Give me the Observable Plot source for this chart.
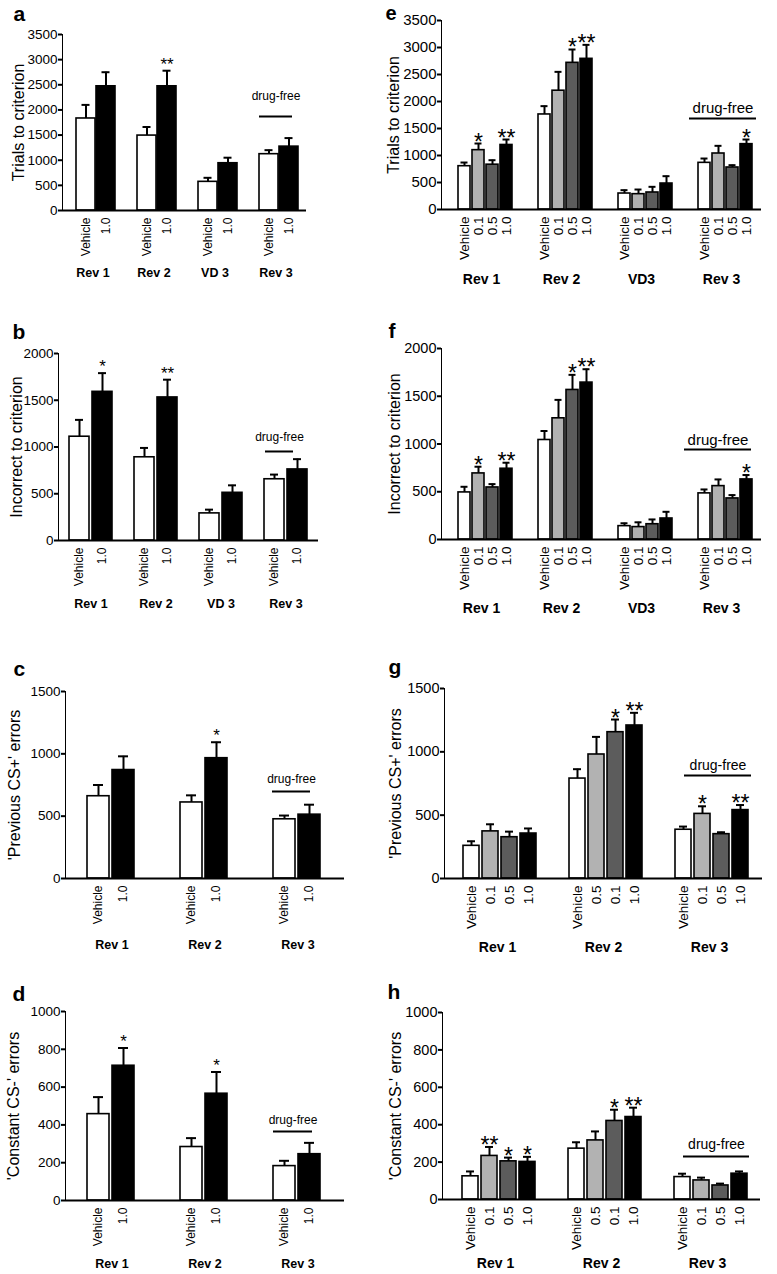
<!DOCTYPE html>
<html>
<head>
<meta charset="utf-8">
<script src="https://cdn.jsdelivr.net/npm/d3@7"></script>
<script src="https://cdn.jsdelivr.net/npm/@observablehq/plot@0.6"></script>
<style>
html, body { margin: 0; padding: 0; background: #fff; }
#root { position: relative; width: 777px; height: 1274px; overflow: hidden; }
.panel { position: absolute; }
.panel svg { overflow: visible; }
.panel g[aria-label^="y-axis"] path, .panel g[aria-label^="y-axis"] line { stroke-width: 2px; stroke: #000; }
</style>
</head>
<body>
<div id="root"></div>
<script>
// ---------- DATA ----------
const shades2 = ["#ffffff", "#000000"];
const shades4 = ["#ffffff", "#b2b2b2", "#5c5c5c", "#000000"];

// Panel a
const groupsA = ["Rev 1", "Rev 2", "VD 3", "Rev 3"];
const dosesA = [["Vehicle", "1.0"], ["Vehicle", "1.0"], ["Vehicle", "1.0"], ["Vehicle", "1.0"]];
const meanA = [[1830, 2470], [1490, 2470], [570, 940], [1120, 1270]];
const errA = [[2100, 2750], [1660, 2780], [650, 1050], [1200, 1440]];
const starsA = [["", ""], ["", "**"], ["", ""], ["", ""]];
const ticksA = [0, 500, 1000, 1500, 2000, 2500, 3000, 3500];

// Panel b
const groupsB = ["Rev 1", "Rev 2", "VD 3", "Rev 3"];
const dosesB = [["Vehicle", "1.0"], ["Vehicle", "1.0"], ["Vehicle", "1.0"], ["Vehicle", "1.0"]];
const meanB = [[1110, 1590], [890, 1530], [290, 510], [655, 760]];
const errB = [[1290, 1790], [990, 1720], [330, 590], [705, 870]];
const starsB = [["", "*"], ["", "**"], ["", ""], ["", ""]];
const ticksB = [0, 500, 1000, 1500, 2000];

// Panel c
const groupsC = ["Rev 1", "Rev 2", "Rev 3"];
const dosesC = [["Vehicle", "1.0"], ["Vehicle", "1.0"], ["Vehicle", "1.0"]];
const meanC = [[660, 870], [610, 965], [475, 512]];
const errC = [[750, 980], [667, 1093], [505, 592]];
const starsC = [["", ""], ["", "*"], ["", ""]];
const ticksC = [0, 500, 1000, 1500];

// Panel d
const groupsD = ["Rev 1", "Rev 2", "Rev 3"];
const dosesD = [["Vehicle", "1.0"], ["Vehicle", "1.0"], ["Vehicle", "1.0"]];
const meanD = [[457, 713], [283, 565], [182, 245]];
const errD = [[547, 807], [330, 680], [210, 305]];
const starsD = [["", "*"], ["", "*"], ["", ""]];
const ticksD = [0, 200, 400, 600, 800, 1000];

// Panel e
const groupsE = ["Rev 1", "Rev 2", "VD3", "Rev 3"];
const dosesE = [["Vehicle", "0.1", "0.5", "1.0"], ["Vehicle", "0.1", "0.5", "1.0"], ["Vehicle", "0.1", "0.5", "1.0"], ["Vehicle", "0.1", "0.5", "1.0"]];
const meanE = [[802, 1099, 830, 1195], [1760, 2200, 2716, 2790], [296, 284, 315, 481], [864, 1037, 778, 1210]];
const errE = [[870, 1222, 913, 1296], [1914, 2549, 2963, 3049], [358, 370, 420, 617], [944, 1179, 821, 1296]];
const starsE = [["", "*", "", "**"], ["", "", "*", "**"], ["", "", "", ""], ["", "", "", "*"]];
const ticksE = [0, 500, 1000, 1500, 2000, 2500, 3000, 3500];

// Panel f
const groupsF = ["Rev 1", "Rev 2", "VD3", "Rev 3"];
const dosesF = [["Vehicle", "0.1", "0.5", "1.0"], ["Vehicle", "0.1", "0.5", "1.0"], ["Vehicle", "0.1", "0.5", "1.0"], ["Vehicle", "0.1", "0.5", "1.0"]];
const meanF = [[493, 692, 545, 741], [1042, 1269, 1566, 1643], [140, 130, 160, 220], [483, 559, 430, 629]];
const errF = [[552, 762, 580, 804], [1136, 1462, 1724, 1783], [170, 180, 210, 290], [524, 629, 465, 675]];
const starsF = [["", "*", "", "**"], ["", "", "*", "**"], ["", "", "", ""], ["", "", "", "*"]];
const ticksF = [0, 500, 1000, 1500, 2000];

// Panel g
const groupsG = ["Rev 1", "Rev 2", "Rev 3"];
const dosesG = [["Vehicle", "0.1", "0.5", "1.0"], ["Vehicle", "0.5", "0.1", "1.0"], ["Vehicle", "0.1", "0.5", "1.0"]];
const meanG = [[258, 372, 326, 355], [789, 979, 1155, 1208], [385, 510, 350, 540]];
const errG = [[294, 428, 370, 395], [863, 1118, 1255, 1308], [410, 570, 365, 580]];
const starsG = [["", "", "", ""], ["", "", "*", "**"], ["", "*", "", "**"]];
const ticksG = [0, 500, 1000, 1500];

// Panel h
const groupsH = ["Rev 1", "Rev 2", "Rev 3"];
const dosesH = [["Vehicle", "0.1", "0.5", "1.0"], ["Vehicle", "0.5", "0.1", "1.0"], ["Vehicle", "0.1", "0.5", "1.0"]];
const meanH = [[124, 233, 204, 201], [272, 316, 420, 441], [120, 102, 75, 138]];
const errH = [[150, 281, 224, 228], [306, 364, 480, 491], [138, 117, 85, 150]];
const starsH = [["", "**", "*", "*"], ["", "", "*", "**"], ["", "", "", ""]];
const ticksH = [0, 200, 400, 600, 800, 1000];

// ---------- RENDER ----------
const FONT = "'Liberation Sans', Arial, Helvetica, sans-serif";

function panel(c) {
  const rows = [];
  c.groups.forEach((g, gi) => c.doses[gi].forEach((lab, i) => rows.push({
    group: g, idx: i, label: lab, mean: c.means[gi][i], err: c.errs[gi][i],
    star: c.stars[gi][i], fill: c.shades[i]
  })));
  const ymax = c.ticks[c.ticks.length - 1];
  const first = [c.groups[0]];
  const df = [{g: c.dfGroup, y: c.dfLevel}];
  const plot = Plot.plot({
    width: c.width, height: c.height,
    marginLeft: c.ml, marginRight: c.mr, marginTop: c.mt, marginBottom: c.mb,
    style: {fontFamily: FONT, fontSize: c.tickFont + "px", color: "#000", background: "transparent", overflow: "visible"},
    fx: {domain: c.groups, padding: 0, axis: null, label: null},
    x: {domain: d3.range(c.shades.length), paddingInner: c.pI, paddingOuter: c.pO, align: c.align, axis: null, label: null},
    y: {domain: [0, ymax], ticks: c.ticks, tickFormat: d3.format("d"), tickSize: 4, tickPadding: 1, line: true, label: null},
    color: {type: "identity"},
    marks: [
      Plot.barY(rows, {fx: "group", x: "idx", y: "mean", fill: "fill", stroke: "#000", strokeWidth: 1.6}),
      Plot.ruleX(rows, {fx: "group", x: "idx", y1: "mean", y2: "err", stroke: "#000", strokeWidth: 2}),
      Plot.tickY(rows, {fx: "group", x: "idx", y: "err", stroke: "#000", strokeWidth: 2, insetLeft: c.cap, insetRight: c.cap}),
      Plot.ruleY([0], {stroke: "#000", strokeWidth: 2}),
      Plot.text(rows.filter(d => d.star), {fx: "group", x: "idx", y: "err", text: "star", fontSize: c.starFont, lineAnchor: "bottom", dy: c.starDy}),
      Plot.text(rows, {fx: "group", x: "idx", text: "label", frameAnchor: "bottom", rotate: -90, textAnchor: "end", lineAnchor: "middle", dy: c.doseDy, fontSize: c.doseFont}),
      Plot.text(c.groups, {fx: d => d, text: d => d, frameAnchor: "bottom", lineAnchor: "bottom", dy: c.groupDy, fontWeight: "bold", fontSize: c.groupFont}),
      Plot.text(first, {fx: d => d, y: () => ymax / 2, text: () => c.title, frameAnchor: "left", rotate: -90, textAnchor: "middle", lineAnchor: "middle", dx: c.titleDx, fontSize: c.titleFont}),
      Plot.text(first, {fx: d => d, y: () => ymax, text: () => c.letter, frameAnchor: "left", textAnchor: "start", lineAnchor: "bottom", dx: c.letterDx, dy: c.letterDy, fontWeight: "bold", fontSize: c.letterFont || 21}),
      Plot.ruleY(df, {fx: "g", y: "y", stroke: "#000", strokeWidth: 2, insetLeft: c.dfInL, insetRight: c.dfInR}),
      Plot.text(df, {fx: "g", y: "y", text: () => "drug-free", lineAnchor: "bottom", dy: -c.dfGap, dx: (c.dfInL - c.dfInR) / 2, fontSize: c.dfFont})
    ]
  });
  const div = document.createElement("div");
  div.className = "panel";
  div.style.left = c.left + "px";
  div.style.top = c.top + "px";
  div.appendChild(plot);
  document.getElementById("root").appendChild(div);
}

const leftCommon = {shades: shades2, left: 0, width: 388, tickFont: 13.5, doseFont: 12, doseDy: 7, groupFont: 12.5, titleFont: 16, starFont: 17, starDy: -1, dfFont: 12};
// right column svg starts at x=360 so its letters/titles stay inside it
const rightCommon = {shades: shades4, left: 360, width: 417, tickFont: 14.5, doseFont: 13.5, doseDy: 7, groupFont: 14, titleFont: 16, starFont: 23, starDy: 6, dfFont: 15, pI: 0.15};

panel({...leftCommon, top: 0, height: 300, ml: 62, mr: 82, mt: 34, mb: 90,
  groups: groupsA, doses: dosesA, means: meanA, errs: errA, stars: starsA, ticks: ticksA,
  pI: 0.064, pO: 0.53, align: 0.64, cap: 5.5, groupDy: 66,
  title: "Trials to criterion", titleDx: -44, letter: "a", letterDx: -49, letterDy: -14,
  dfGroup: "Rev 3", dfLevel: 1870, dfInL: 14, dfInR: 14, dfGap: 16});

panel({...leftCommon, top: 300, height: 320, ml: 58, mr: 70, mt: 53, mb: 80,
  groups: groupsB, doses: dosesB, means: meanB, errs: errB, stars: starsB, ticks: ticksB,
  pI: 0.13, pO: 0.478, align: 0.5, cap: 6, groupDy: 67,
  title: "Incorrect to criterion", titleDx: -42, letter: "b", letterDx: -46, letterDy: -15,
  dfGroup: "Rev 3", dfLevel: 952, dfInL: 12, dfInR: 25, dfGap: 10});

panel({...leftCommon, top: 640, height: 335, ml: 65, mr: 44, mt: 51, mb: 97,
  groups: groupsC, doses: dosesC, means: meanC, errs: errC, stars: starsC, ticks: ticksC,
  pI: 0.12, pO: 0.92, align: 0.48, cap: 6, groupDy: 70,
  title: "'Previous CS+' errors", titleDx: -51, letter: "c", letterDx: -52, letterDy: -16,
  dfGroup: "Rev 3", dfLevel: 698, dfInL: 21, dfInR: 34, dfGap: 8});

panel({...leftCommon, top: 980, height: 294, ml: 65, mr: 44, mt: 31, mb: 74,
  groups: groupsD, doses: dosesD, means: meanD, errs: errD, stars: starsD, ticks: ticksD,
  pI: 0.12, pO: 0.92, align: 0.48, cap: 6, groupDy: 67,
  title: "'Constant CS-' errors", titleDx: -52, letter: "d", letterDx: -53, letterDy: -11,
  dfGroup: "Rev 3", dfLevel: 365, dfInL: 22, dfInR: 32, dfGap: 8});

panel({...rightCommon, top: 0, height: 300, ml: 81, mr: 16, mt: 20, mb: 91,
  groups: groupsE, doses: dosesE, means: meanE, errs: errE, stars: starsE, ticks: ticksE,
  pO: 0.91, align: 0.66, cap: 2.5, groupDy: 74, tickFont: 15,
  title: "Trials to criterion", titleDx: -48, letter: "e", letterDx: -56, letterDy: -1, letterFont: 20,
  dfGroup: "Rev 3", dfLevel: 1685, dfInL: 8, dfInR: 5, dfGap: 6});

panel({...rightCommon, top: 300, height: 320, ml: 81, mr: 16, mt: 48, mb: 81,
  groups: groupsF, doses: dosesF, means: meanF, errs: errF, stars: starsF, ticks: ticksF,
  pO: 0.91, align: 0.66, cap: 2.5, groupDy: 73,
  title: "Incorrect to criterion", titleDx: -47, letter: "f", letterDx: -53, letterDy: -11,
  dfGroup: "Rev 3", dfLevel: 942, dfInL: 3, dfInR: 10, dfGap: 5});

panel({...rightCommon, top: 640, height: 335, ml: 84, mr: 15, mt: 48, mb: 97,
  groups: groupsG, doses: dosesG, means: meanG, errs: errG, stars: starsG, ticks: ticksG,
  pO: 0.85, align: 0.58, cap: 4, groupDy: 73,
  title: "'Previous CS+' errors", titleDx: -49, letter: "g", letterDx: -56, letterDy: -15,
  dfGroup: "Rev 3", dfLevel: 813, dfInL: 28, dfInR: 11, dfGap: 6, dfFont: 14});

panel({...rightCommon, top: 980, height: 294, ml: 82, mr: 17, mt: 32, mb: 75,
  groups: groupsH, doses: dosesH, means: meanH, errs: errH, stars: starsH, ticks: ticksH,
  pO: 0.85, align: 0.62, cap: 4, groupDy: 68,
  title: "'Constant CS-' errors", titleDx: -47, letter: "h", letterDx: -55, letterDy: -14,
  dfGroup: "Rev 3", dfLevel: 230, dfInL: 29, dfInR: 11, dfGap: 7, dfFont: 14});
</script>
</body>
</html>
